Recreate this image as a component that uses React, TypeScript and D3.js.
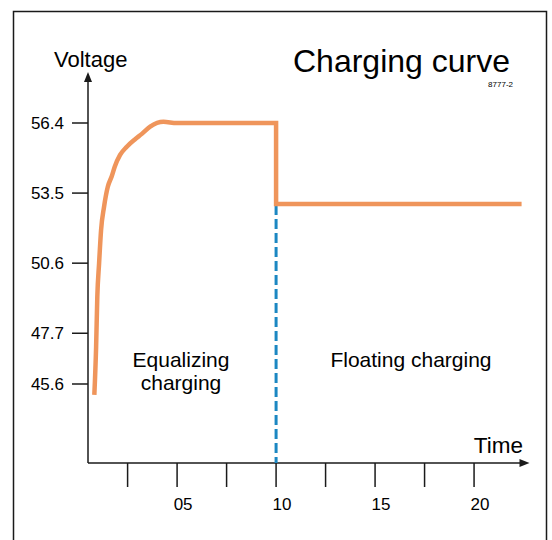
import React from "react";
import * as d3 from "d3";

const yTickValues = [56.4, 53.5, 50.6, 47.7, 45.6];
const xMinorTicks = [2.5, 5, 7.5, 10, 12.5, 15, 17.5, 20];
const xTickLabels = [
  { t: 5, label: "05" },
  { t: 10, label: "10" },
  { t: 15, label: "15" },
  { t: 20, label: "20" },
];
// equalizing phase (rising then flat)
const riseTime = [0.82, 0.91, 0.97, 1.06, 1.16, 1.31, 1.5, 1.7, 1.85, 2.12, 2.46, 2.88, 3.22, 3.64, 4.31, 4.98, 10];
const riseVolt = [45.15, 47.14, 49.21, 50.59, 51.97, 52.93, 53.76, 54.2, 54.59, 55.08, 55.42, 55.73, 55.95, 56.25, 56.45, 56.4, 56.4];
// floating phase
const floatTime = [10, 22.4];
const floatVolt = [53.05, 53.05];
const switchTime = 10;

const FONT = "'Liberation Sans', Arial, sans-serif";

export default function App() {
  const x = d3.scaleLinear().domain([0.5, 22.8]).range([88, 529.5]);
  const y = d3.scaleLinear().domain([45.6, 56.4]).range([384, 123]);
  const axisY = 463;
  const axisX = 88;
  const topY = 72;
  const risePts: [number, number][] = riseTime.map((t, i) => [t, riseVolt[i]]);
  const floatPts: [number, number][] = floatTime.map((t, i) => [t, floatVolt[i]]);
  const smooth = d3
    .line<[number, number]>()
    .x((d) => x(d[0]))
    .y((d) => y(d[1]))
    .curve(d3.curveMonotoneX);
  const straight = d3
    .line<[number, number]>()
    .x((d) => x(d[0]))
    .y((d) => y(d[1]));
  const d = (smooth(risePts) || "") + (straight(floatPts) || "").replace(/^M/, "L");
  const ink = "#1a1a1a";
  return (
    <svg
      width={552}
      height={540}
      style={{ position: "absolute", left: 0, top: 0, background: "#fff" }}
      fontFamily={FONT}
    >
      <rect x={0} y={0} width={552} height={540} fill="#fff" />
      {/* frame */}
      <path d="M13.5,545 V11.5 H546.5 V545" fill="none" stroke={ink} strokeWidth={1.5} />
      {/* titles */}
      <text x={54} y={67} fontSize={22} fill="#000">Voltage</text>
      <text x={293} y={72} fontSize={32} fill="#000">Charging curve</text>
      <text x={513} y={87} fontSize={8} textAnchor="end" fill="#000">8777-2</text>
      {/* y axis */}
      <line x1={axisX} x2={axisX} y1={axisY} y2={topY + 8} stroke={ink} strokeWidth={1.5} />
      <path d={`M${axisX},${topY} L${axisX - 4},${topY + 10} L${axisX + 4},${topY + 10} Z`} fill={ink} />
      {yTickValues.map((v) => (
        <g key={v}>
          <line x1={72} x2={axisX} y1={y(v)} y2={y(v)} stroke={ink} strokeWidth={1.5} />
          <text x={64} y={y(v)} dy="0.35em" fontSize={17} textAnchor="end" fill="#000">
            {v.toFixed(1)}
          </text>
        </g>
      ))}
      {/* x axis */}
      <line x1={axisX} x2={521} y1={axisY} y2={axisY} stroke={ink} strokeWidth={1.5} />
      <path d={`M${x(22.8)},${axisY} L${x(22.8) - 10},${axisY - 4} L${x(22.8) - 10},${axisY + 4} Z`} fill={ink} />
      {xMinorTicks.map((t) => (
        <line key={t} x1={x(t)} x2={x(t)} y1={axisY} y2={487} stroke={ink} strokeWidth={1.5} />
      ))}
      {xTickLabels.map((dd) => (
        <text key={dd.label} x={x(dd.t) + 6} y={510} fontSize={17} textAnchor="middle" fill="#000">
          {dd.label}
        </text>
      ))}
      <text x={523} y={453} fontSize={22.5} textAnchor="end" fill="#000">Time</text>
      {/* dashed switch line */}
      <line
        x1={x(switchTime)}
        x2={x(switchTime)}
        y1={y(floatVolt[0]) + 1}
        y2={axisY}
        stroke="#1b87c2"
        strokeWidth={3}
        strokeDasharray="10 4"
      />
      {/* charging curve */}
      <path d={d} fill="none" stroke="#ef955b" strokeWidth={4.5} strokeLinejoin="miter" strokeLinecap="butt" />
      {/* region labels */}
      <text x={181} y={367} fontSize={21} textAnchor="middle" fill="#000">Equalizing</text>
      <text x={181} y={390} fontSize={21} textAnchor="middle" fill="#000">charging</text>
      <text x={411} y={367} fontSize={21} textAnchor="middle" fill="#000">Floating charging</text>
    </svg>
  );
}
